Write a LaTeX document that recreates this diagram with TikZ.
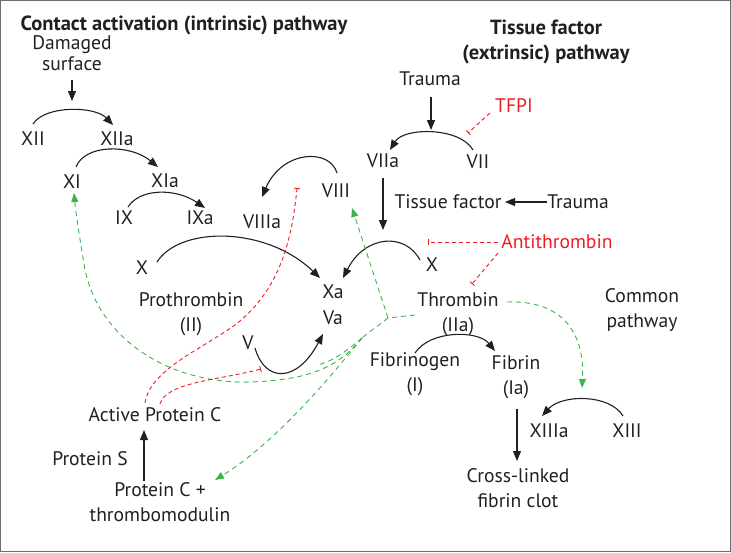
\documentclass[tikz,border=0pt]{standalone}
\usepackage{fontspec}
\setmainfont{PT Sans}
\usetikzlibrary{arrows.meta,calc}
\definecolor{ink}{HTML}{231F20}
\definecolor{inhib}{HTML}{ED1C24}
\definecolor{act}{HTML}{39B54A}
\definecolor{frame}{HTML}{6D6E71}
\begin{document}
\begin{tikzpicture}[x=1pt,y=-1pt,
  lbl/.style={inner sep=0pt, text=ink, font=\fontsize{19.6}{25}\selectfont, align=center},
  ttl/.style={inner sep=0pt, text=ink, font=\fontsize{20.5}{25}\selectfont\bfseries, align=center},
  red/.style={lbl, text=inhib},
  arr/.style={draw=ink, line width=1.1pt, -{Triangle[length=10pt,width=8pt]}},
  actl/.style={draw=act, line width=0.9pt, dash pattern=on 5pt off 4pt},
  acta/.style={actl, -{Triangle[length=9pt,width=7pt]}},
  inh/.style={draw=inhib, line width=0.9pt, dash pattern=on 4pt off 3pt, -{Bar[width=6pt]}}]
\useasboundingbox (0,0) rectangle (731,552);
\draw[frame, line width=1pt] (0.5,0.5) rectangle (730.5,551.5);

% titles
\node[ttl] (t1) at (184,25) {Contact activation (intrinsic) pathway};
\node[ttl] (t2) at (546,42) {Tissue factor\\(extrinsic) pathway};

% intrinsic
\node[lbl, font=\fontsize{19.6}{21}\selectfont] (dmg) at (72,53) {Damaged\\surface};
\node[lbl] (XII) at (33,139) {XII};
\node[lbl] (XIIa) at (117,139) {XIIa};
\node[lbl] (XI) at (72,182) {XI};
\node[lbl] (XIa) at (165,181) {XIa};
\node[lbl] (IX) at (124,218) {IX};
\node[lbl] (IXa) at (200,218) {IXa};
\node[lbl] (VIIIa) at (262,222) {VIIIa};
\node[lbl] (VIII) at (336,191) {VIII};
\node[lbl] (Xl) at (142,268) {X};
\node[lbl] (Xa) at (333,292) {Xa};
\node[lbl] (Va) at (333,318) {Va};
\node[lbl] (Pro) at (191,314) {Prothrombin\\(II)};
\node[lbl] (V) at (248,343) {V};

% extrinsic
\node[lbl] (Tr1) at (430,79) {Trauma};
\node[red] (TFPI) at (514,106) {TFPI};
\node[lbl] (VIIa) at (383,161) {VIIa};
\node[lbl] (VII) at (478,162) {VII};
\node[lbl] (TF) at (448,202) {Tissue factor};
\node[lbl] (Tr2) at (578,202) {Trauma};
\node[red] (AT) at (557,242) {Antithrombin};
\node[lbl] (Xr) at (432,265) {X};

% common
\node[lbl] (Thr) at (458,314) {Thrombin\\(IIa)};
\node[lbl] (Com) at (642,310) {Common\\pathway};
\node[lbl] (Fgn) at (415,374) {Fibrinogen\\(I)};
\node[lbl] (Fib) at (516,377) {Fibrin\\(Ia)};
\node[lbl] (XIIIa) at (549,431) {XIIIa};
\node[lbl] (XIII) at (627,431) {XIII};
\node[lbl] (CL) at (518,488) {Cross-linked\\fibrin clot};

% protein C
\node[lbl] (APC) at (155,415) {Active Protein C};
\node[lbl] (PS) at (90,459) {Protein S};
\node[lbl] (PC) at (160,502) {Protein C +\\thrombomodulin};

% black reactions
\draw[arr] ($(dmg)+(0,27)$) -- ($(dmg)+(0,48)$);
\draw[arr] ($(XII)+(0,-15)$) .. controls +(12,-19) and +(-18,-19) .. ($(XIIa)+(-4,-14)$);
\draw[arr] ($(XI)+(4,-15)$) .. controls (85,144) and (130,144) .. ($(XIa)+(-7,-14)$);
\draw[arr] ($(IX)+(4,-11)$) .. controls (140,188) and (176,188) .. ($(IXa)+(5,-10)$);
\draw[arr] ($(VIII)+(1,-18)$) .. controls (330,148) and (282,150) .. ($(VIIIa)+(0,-25)$);
\draw[arr] ($(Xl)+(15,-6)$) .. controls (180,226) and (266,226) .. ($(Xa)+(-13,-14)$);
\draw[arr] ($(Xr)+(-12,-5)$) .. controls (405,232) and (365,235) .. ($(Xa)+(10,-14)$);
\draw[arr] ($(VIIa)+(0,17)$) -- ($(VIIa)+(0,69)$);
\draw[arr] ($(V)+(7,5)$) .. controls (265,383) and (297,383) .. ($(Va)+(-10,16)$);
\draw[arr] ($(Tr1)+(1,18)$) -- ($(Tr1)+(1,51)$);
\draw[arr] ($(VII)+(-5,-12)$) .. controls (460,127) and (404,127) .. ($(VIIa)+(7,-11)$);
\draw[arr] ($(Tr2)+(-31,0)$) -- ($(TF)+(57,0)$);
\draw[arr] ($(Fgn)+(0,-21)$) .. controls (430,330) and (478,330) .. ($(Fib)+(-21,-26)$);
\draw[arr] ($(Fib)+(1,32)$) -- ($(CL)+(-1,-27)$);
\draw[arr] ($(XIII)+(-4,-15)$) .. controls (610,394) and (562,394) .. ($(XIIIa)+(-7,-15)$);
\draw[arr] ($(PC)+(-16,-21)$) -- ($(APC)+(-11,15)$);

% green activation by thrombin
\coordinate (J) at (388,318);
\coordinate (S) at (362,338);
\draw[actl] ($(Thr)+(-43,1)$) -- (J) .. controls (378,326) and (370,331) .. (S);
\draw[acta] (J) -- ($(VIII)+(16,17)$);
\draw[actl] (S) .. controls (348,350) and (332,362) .. ($(Va)+(-16,47)$);
\draw[acta] (S) .. controls (335,372) and (300,380) .. (250,382)
   .. controls (170,384) and (100,340) .. (85,270)
   .. controls (80,240) and (76,215) .. ($(XI)+(2,11)$);
\draw[acta] (S) .. controls (340,365) and (280,440) .. ($(PC)+(55,-22)$);
\draw[acta] ($(Thr)+(49,-12)$) .. controls (560,300) and (585,330) .. ($(XIIIa)+(33,-43)$);

% red inhibition
\draw[inh] ($(APC)+(-10,-12)$) .. controls (150,370) and (200,350) .. (235,325)
   .. controls (280,290) and (292,240) .. ($(VIIIa)+(35,-34)$);
\draw[inh] ($(APC)+(5,-11)$) .. controls (166,382) and (220,380) .. ($(V)+(13,26)$);
\draw[inh] ($(TFPI)+(-24,7)$) -- ($(VII)+(-10,-29)$);
\draw[inh] ($(AT)+(-59,0)$) -- ($(Xr)+(-4,-23)$);
\draw[inh] ($(AT)+(-59,11)$) -- ($(Thr)+(14,-30)$);
\end{tikzpicture}
\end{document}
